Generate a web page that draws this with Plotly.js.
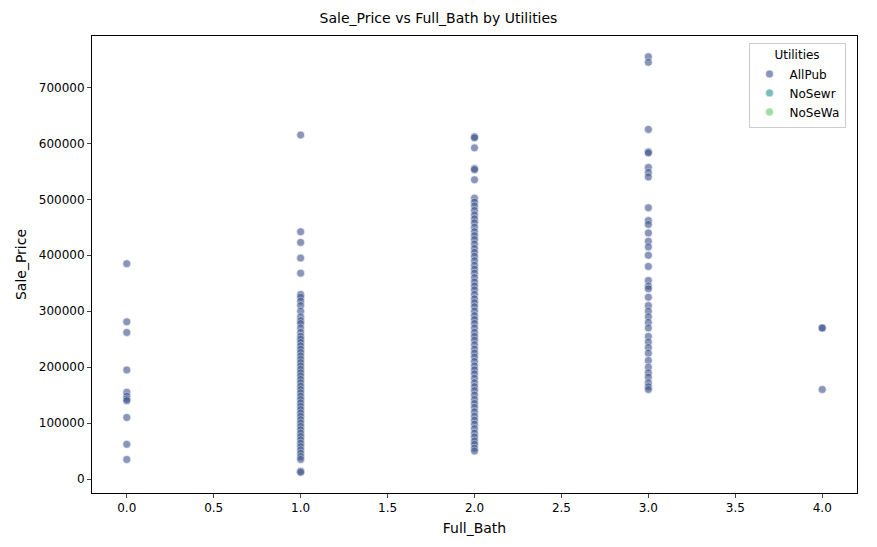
<!DOCTYPE html>
<html>
<head>
<script src="https://cdn.plot.ly/plotly-3.0.1.min.js"></script>
<style>body{margin:0}</style>
</head>
<body>
<div id="chart" style="width:877px;height:547px"></div>
<script>
// AllPub sale prices grouped by Full_Bath
var bath0 = [385000, 281000, 262000, 195000, 155000, 148000, 143000, 140000, 110000, 62000, 35000];
var bath1 = [615000, 442000, 423000, 395000, 368000, 330000, 325000, 318000, 310000, 300000, 290000, 283000,
  278000, 270000, 262000, 255000, 250000, 244000, 238000, 232000, 226000, 220000, 214000, 208000, 202000,
  196000, 190000, 184000, 178000, 172000, 166000, 160000, 154000, 148000, 142000, 136000, 130000, 124000,
  118000, 112000, 106000, 100000, 94000, 88000, 82000, 76000, 70000, 64000, 58000, 52000, 46000, 40000,
  35000, 14000, 12000];
var bath2 = [612000, 610000, 592000, 555000, 553000, 535000, 502000, 495000, 488000, 480000, 472000, 465000,
  458000, 450000, 442000, 435000, 428000, 420000, 412000, 405000, 398000, 390000, 382000, 375000, 368000,
  360000, 352000, 345000, 338000, 330000, 322000, 315000, 308000, 300000, 292000, 285000, 278000, 270000,
  262000, 255000, 248000, 240000, 232000, 225000, 218000, 210000, 202000, 195000, 188000, 180000, 172000,
  165000, 158000, 150000, 142000, 135000, 128000, 120000, 112000, 105000, 98000, 90000, 82000, 75000,
  68000, 62000, 55000, 50000];
var bath3 = [755000, 745000, 625000, 585000, 583000, 557000, 548000, 540000, 485000, 462000, 455000, 440000,
  425000, 415000, 400000, 380000, 355000, 345000, 340000, 325000, 310000, 300000, 290000, 280000, 270000,
  255000, 245000, 235000, 225000, 212000, 200000, 190000, 182000, 172000, 165000, 160000];
var bath4 = [270000, 270000, 160000];

var xs = [], ys = [];
[bath0, bath1, bath2, bath3, bath4].forEach(function (arr, i) {
  arr.forEach(function (v) { xs.push(i); ys.push(v); });
});

var mk = {size: 8, opacity: 0.6, line: {color: "white", width: 0.6}};
var data = [
  {x: xs, y: ys, name: "AllPub", type: "scatter", mode: "markers",
   marker: Object.assign({color: "#3b528b"}, mk)},
  {x: [null], y: [null], name: "NoSewr", type: "scatter", mode: "markers",
   marker: Object.assign({color: "#21918c"}, mk)},
  {x: [null], y: [null], name: "NoSeWa", type: "scatter", mode: "markers",
   marker: Object.assign({color: "#5ec962"}, mk)}
];

var layout = {
  width: 877, height: 547,
  margin: {l: 92, r: 20, t: 36, b: 54},
  paper_bgcolor: "white", plot_bgcolor: "white",
  font: {family: "DejaVu Sans", size: 12, color: "#000"},
  title: {text: "Sale_Price vs Full_Bath by Utilities", x: 0.5, y: 0.975, font: {size: 14}},
  xaxis: {
    title: {text: "Full_Bath", standoff: 8},
    range: [-0.2, 4.2], tickvals: [0, 0.5, 1, 1.5, 2, 2.5, 3, 3.5, 4],
    ticktext: ["0.0", "0.5", "1.0", "1.5", "2.0", "2.5", "3.0", "3.5", "4.0"],
    showgrid: false, zeroline: false, showline: true, mirror: true, linecolor: "#000",
    ticks: "outside", ticklen: 4
  },
  yaxis: {
    title: {text: "Sale_Price", standoff: 8},
    range: [-25000, 792000], tickvals: [0, 100000, 200000, 300000, 400000, 500000, 600000, 700000],
    tickformat: "d",
    showgrid: false, zeroline: false, showline: true, mirror: true, linecolor: "#000",
    ticks: "outside", ticklen: 4
  },
  legend: {
    title: {text: "Utilities", side: "top center", font: {size: 12}},
    x: 0.985, y: 0.985, xanchor: "right", yanchor: "top",
    bgcolor: "white", bordercolor: "#ccc", borderwidth: 1
  },
  showlegend: true
};
Plotly.newPlot("chart", data, layout, {displayModeBar: false});
</script>
</body>
</html>
